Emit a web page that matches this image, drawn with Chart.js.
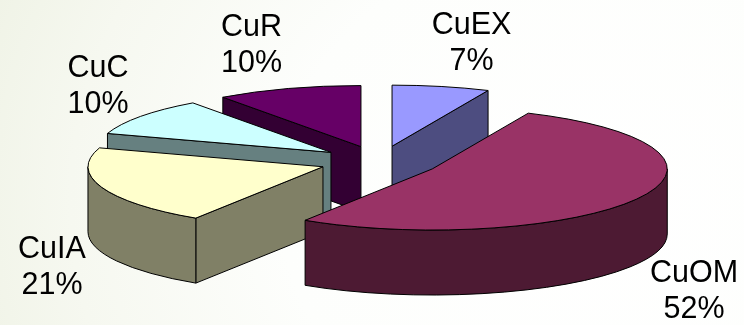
<!DOCTYPE html>
<html>
<head>
<meta charset="utf-8">
<script src="https://cdn.jsdelivr.net/npm/chart.js@4"></script>
<style>
  html, body { margin: 0; padding: 0; width: 744px; height: 325px; overflow: hidden; }
  body { background: radial-gradient(ellipse 700px 600px at 80% 62%, #ffffff 0%, #fdfefc 45%, #f6f8f0 75%, #edf1e2 100%); }
  canvas { display: block; }
</style>
</head>
<body>
<canvas id="grafico" width="744" height="325"></canvas>
<script>
const categorias = ['CuEX', 'CuOM', 'CuIA', 'CuC', 'CuR'];
const valores = [6.7, 52.4, 20.9, 10, 10];
const coresTopo = ['#9999ff', '#993366', '#ffffcc', '#ccffff', '#660066'];
const coresLado = ['#4d4d80', '#4d1a33', '#808066', '#668080', '#330033'];

// center x and first baseline of each label
const rotulosX = [471.5, 694, 52, 98, 251.5];
const rotulosY = [34, 282, 258, 77, 36];

const ACHATAR = 0.26;   // pie seen from above
const ALTURA = 65;      // thickness of the slices
const EXPLODIR = 60;    // distance each slice is pulled out
const TWO_PI = Math.PI * 2;

function deslocamento(arc) {
    const meio = (arc.startAngle + arc.endAngle) / 2;
    return {
        x: arc.x + Math.cos(meio) * EXPLODIR,
        y: arc.y + Math.sin(meio) * EXPLODIR * ACHATAR
    };
}

function desenharParede(ctx, c, r, ini, fim, cor) {
    ctx.fillStyle = cor;
    ctx.beginPath();
    ctx.ellipse(c.x, c.y, r, r * ACHATAR, 0, ini, fim);
    ctx.ellipse(c.x, c.y + ALTURA, r, r * ACHATAR, 0, fim, ini, true);
    ctx.closePath();
    ctx.fill();
    ctx.stroke();
}

function desenharLado(ctx, c, r, ang, cor) {
    const px = c.x + Math.cos(ang) * r;
    const py = c.y + Math.sin(ang) * r * ACHATAR;
    ctx.fillStyle = cor;
    ctx.beginPath();
    ctx.moveTo(c.x, c.y);
    ctx.lineTo(px, py);
    ctx.lineTo(px, py + ALTURA);
    ctx.lineTo(c.x, c.y + ALTURA);
    ctx.closePath();
    ctx.fill();
    ctx.stroke();
}

const pizza3d = {
    id: 'pizza3d',
    beforeDatasetDraw(chart, args) {
        const ctx = chart.ctx;
        const arcos = args.meta.data.map((arc, i) => ({ arc, i }));

        // back slices first
        arcos.sort((a, b) =>
            Math.sin((a.arc.startAngle + a.arc.endAngle) / 2) -
            Math.sin((b.arc.startAngle + b.arc.endAngle) / 2));

        ctx.save();
        ctx.lineWidth = 1;
        ctx.strokeStyle = '#000';
        ctx.lineJoin = 'round';

        arcos.forEach(({ arc, i }) => {
            const c = deslocamento(arc);
            const r = arc.outerRadius;
            const ini = arc.startAngle;
            const fim = arc.endAngle;

            // radial walls facing the viewer
            if (-Math.cos(ini) > 0.001) desenharLado(ctx, c, r, ini, coresLado[i]);
            if (Math.cos(fim) > 0.001) desenharLado(ctx, c, r, fim, coresLado[i]);

            // outer wall, only the part turned to the front
            [0, TWO_PI].forEach(volta => {
                const a = Math.max(ini, volta);
                const b = Math.min(fim, volta + Math.PI);
                if (b > a) desenharParede(ctx, c, r, a, b, coresLado[i]);
            });

            // top face: the library's own arc inside a squashed transform
            ctx.save();
            ctx.translate(c.x, c.y);
            ctx.scale(1, ACHATAR);
            ctx.translate(-arc.x, -arc.y);
            arc.draw(ctx);
            ctx.restore();

            ctx.beginPath();
            ctx.moveTo(c.x, c.y);
            ctx.ellipse(c.x, c.y, r, r * ACHATAR, 0, ini, fim);
            ctx.closePath();
            ctx.stroke();
        });
        ctx.restore();
        return false;
    },
    afterDatasetsDraw(chart) {
        const ctx = chart.ctx;
        ctx.save();
        ctx.font = '30.5px "Liberation Sans", Arial, sans-serif';
        ctx.fillStyle = '#000';
        ctx.textAlign = 'center';
        ctx.textBaseline = 'alphabetic';
        categorias.forEach((nome, i) => {
            ctx.fillText(nome, rotulosX[i], rotulosY[i]);
            ctx.fillText(Math.round(valores[i]) + '%', rotulosX[i], rotulosY[i] + 36);
        });
        ctx.restore();
    }
};

new Chart(document.getElementById('grafico').getContext('2d'), {
    type: 'pie',
    data: {
        labels: categorias,
        datasets: [{
            data: valores,
            backgroundColor: coresTopo,
            borderWidth: 0
        }]
    },
    options: {
        responsive: false,
        animation: false,
        rotation: 0,
        radius: 235,
        layout: { padding: { left: 15, bottom: 2 } },
        plugins: {
            legend: { display: false },
            tooltip: { enabled: false }
        }
    },
    plugins: [pizza3d]
});
</script>
</body>
</html>
